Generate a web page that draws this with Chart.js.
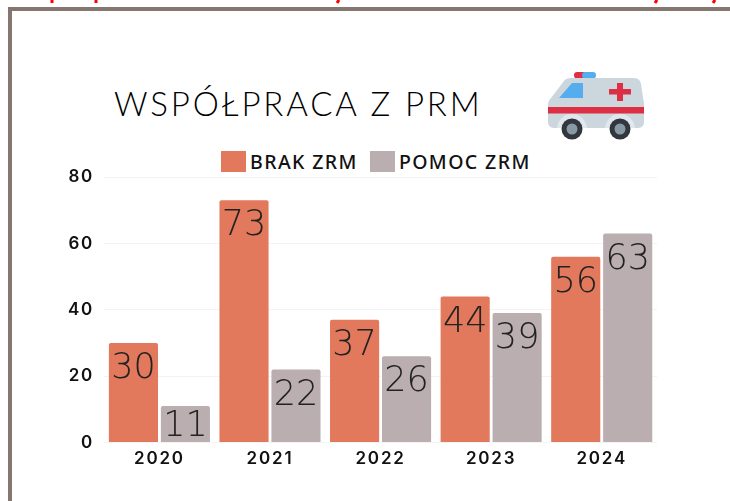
<!DOCTYPE html>
<html><head><meta charset="utf-8">
<style>
html,body{margin:0;padding:0;background:#fff;width:730px;height:501px;overflow:hidden}
#frame{position:absolute;left:8px;top:7px;width:740px;height:520px;border:4px solid #85766F;box-sizing:border-box}
#title{position:absolute;left:114px;top:83px;font:300 33px Lato,sans-serif;color:#000;letter-spacing:2.85px;white-space:nowrap}
#legend{position:absolute;left:221px;top:151px;height:21px;display:flex;align-items:center;font:500 19.5px "Noto Sans",sans-serif;color:#111;letter-spacing:1.4px;white-space:nowrap}
#legend i{display:block;width:25px;height:21px;margin-right:4px}
#legend span{margin-right:12px}
#c{position:absolute;left:0;top:0}
svg{position:absolute}
</style>
<script src="https://cdn.jsdelivr.net/npm/chart.js@4"></script>
</head><body>
<div id="frame"></div>
<svg style="left:0;top:0" width="730" height="5"><g stroke="#f00" stroke-width="3" fill="none"><path d="M52 0 L52 3"/><path d="M96 0 L96 3"/><path d="M339 0 L337 3"/><path d="M657 0 L655 3"/><path d="M715 0 L713 3"/></g></svg>
<div id="title">WSPÓŁPRACA Z PRM</div>
<div id="legend"></div>
<svg style="left:547px;top:70px" width="100" height="70" viewBox="0 0 100 70">
<rect x="27" y="2" width="14" height="6.500" rx="3.200" fill="#DD2E44"/><rect x="35" y="2" width="14" height="6.500" rx="3.200" fill="#55ACEE"/>
<path d="M1 34 Q1 31 4 28 L17 11 Q19 8 24 8 L87 8 Q93 8 94 14 L97 34 L97 52 Q97 58 90 58 L8 58 Q1 58 1 52Z" fill="#CCD6DD"/>
<path d="M12 28 L25 13 L36 13 L36 28Z" fill="#55ACEE"/>
<rect x="62" y="19" width="22" height="5.500" fill="#DD2E44"/><rect x="70" y="13" width="6" height="18" fill="#DD2E44"/>
<rect x="1" y="37" width="96" height="6.500" fill="#DD2E44"/>
<circle cx="25" cy="59" r="15" fill="#E1E8ED"/><circle cx="73" cy="59" r="15" fill="#E1E8ED"/>
<rect x="0" y="58" width="100" height="12" fill="#fff"/>
<circle cx="25" cy="59" r="10.500" fill="#31373D"/><circle cx="73" cy="59" r="10.500" fill="#31373D"/>
<circle cx="25" cy="59" r="5.500" fill="#8899A6"/><circle cx="73" cy="59" r="5.500" fill="#8899A6"/>
</svg>
<canvas id="c" width="730" height="501"></canvas>
<script>
const years = ['2020','2021','2022','2023','2024'];
const brakZrm = [30,73,37,44,56];
const pomocZrm = [11,22,26,39,63];
const yTicks = [0,20,40,60,80];
const tickFont = {family:'Inter, "DejaVu Sans"',size:17,weight:'600'};
const spacing = {
  id:'spacing',
  beforeUpdate(chart){ chart.ctx.letterSpacing='1.8px'; },
  beforeDraw(chart){ chart.ctx.letterSpacing='1.8px'; }
};
const valueLabels = {
  id:'valueLabels',
  afterDatasetsDraw(chart){
    const ctx = chart.ctx;
    ctx.save();
    ctx.letterSpacing='0px';
    ctx.font = '200 35px "DejaVu Sans", sans-serif';
    ctx.fillStyle = '#222';
    ctx.textAlign = 'center';
    ctx.textBaseline = 'middle';
    chart.data.datasets.forEach((ds,i)=>{
      chart.getDatasetMeta(i).data.forEach((bar,j)=>{
        ctx.fillText(String(ds.data[j]), bar.x, Math.min(bar.y+26, bar.base-15));
      });
    });
    ctx.restore();
  }
};
const chart = new Chart(document.getElementById('c'),{
  type:'bar',
  data:{labels:years,datasets:[
    {label:'BRAK ZRM',data:brakZrm,backgroundColor:'#E2785C',borderRadius:2,borderSkipped:'bottom'},
    {label:'POMOC ZRM',data:pomocZrm,backgroundColor:'#BAAEB0',borderRadius:2,borderSkipped:'bottom'}
  ]},
  plugins:[spacing,valueLabels],
  options:{
    responsive:false,animation:false,
    layout:{padding:{top:177,left:58,right:73,bottom:26}},
    datasets:{bar:{categoryPercentage:.94,barPercentage:.945}},
    plugins:{tooltip:{enabled:false},legend:{display:false}},
    scales:{
      x:{grid:{display:false,drawTicks:false},border:{display:false},ticks:{color:'#111',font:tickFont,padding:6,maxRotation:0}},
      y:{min:0,max:80,afterBuildTicks(a){a.ticks=yTicks.map(v=>({value:v}))},
        grid:{color:'#f3f3f3',drawTicks:false},border:{display:false},
        ticks:{color:'#111',font:tickFont,padding:10}}
    }
  }
});
const legendBox = document.getElementById('legend');
chart.data.datasets.forEach(ds=>{
  const swatch = document.createElement('i');
  swatch.style.background = ds.backgroundColor;
  const name = document.createElement('span');
  name.textContent = ds.label;
  legendBox.append(swatch,name);
});
</script>
</body></html>
